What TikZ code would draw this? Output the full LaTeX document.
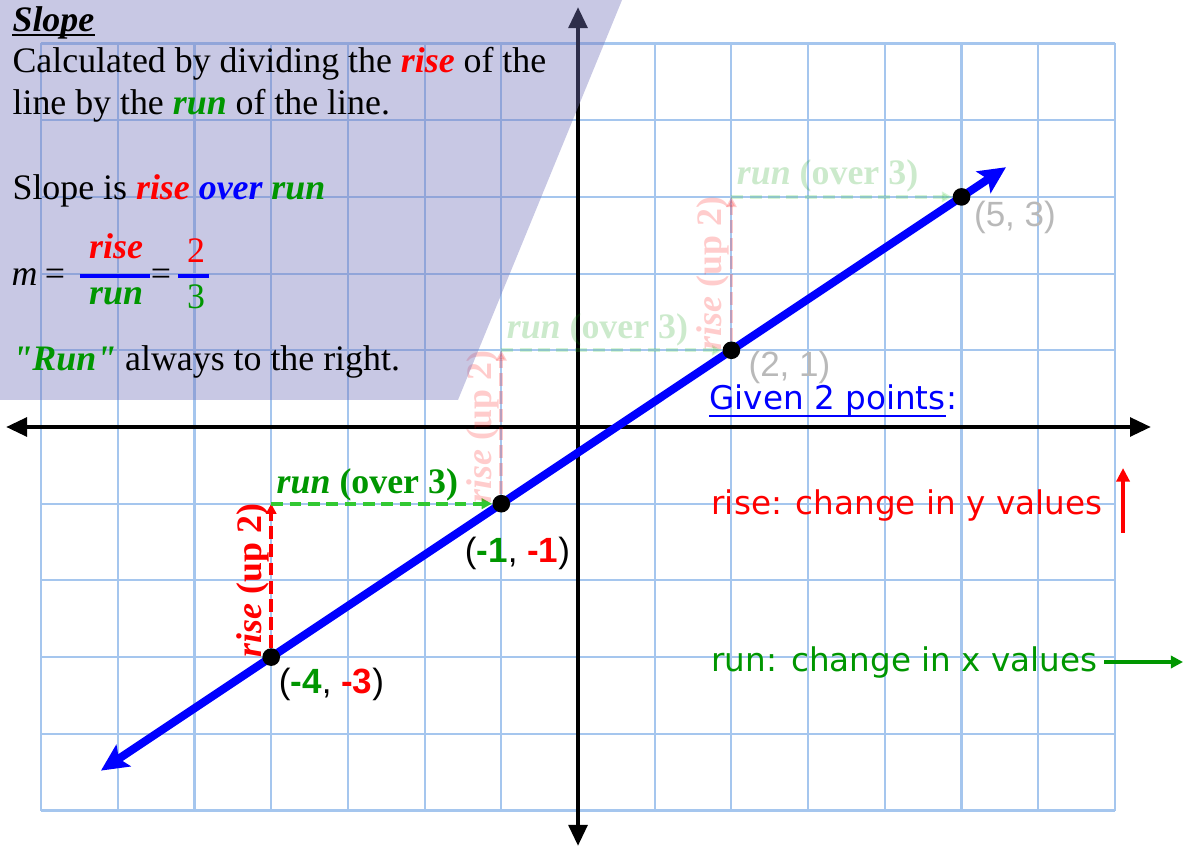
\documentclass[tikz,border=0pt]{standalone}
\usepackage{fontspec}
\setmainfont{Liberation Serif}
\newfontfamily\arialf{Liberation Sans}
\newfontfamily\comicf{DejaVu Sans}
\usetikzlibrary{arrows.meta}
\definecolor{myred}{RGB}{255,0,0}
\definecolor{mygreen}{RGB}{0,150,0}
\definecolor{dashgreen}{RGB}{50,200,50}
\definecolor{myblue}{RGB}{0,0,255}
\definecolor{gridblue}{RGB}{165,198,238}
\definecolor{lav}{RGB}{117,117,187}
\definecolor{lblgray}{RGB}{185,185,185}
\newcommand{\sq}{{\addfontfeatures{Ligatures=TeXOff}"}}
\begin{document}
\begin{tikzpicture}[
  x=1cm,y=1cm,
  font=\fontsize{13.3}{16}\selectfont,
  gridline/.style={draw=gridblue, line width=0.8pt},
  axisline/.style={line width=1.7pt, {Triangle[length=7.8pt,width=6.8pt]}-{Triangle[length=7.8pt,width=6.8pt]}},
  bline/.style={draw=myblue, line width=3pt, {Stealth[length=10pt,width=9.5pt,inset=2pt]}-{Stealth[length=10pt,width=9.5pt,inset=2pt]}},
  dot/.style={circle, fill=black, inner sep=0pt, minimum size=0.23cm},
  risearrow/.style={draw=myred, line width=1.35pt, dash pattern=on 4.8pt off 1.9pt, -{Triangle[length=3.8pt,width=3.8pt]}},
  runarrow/.style={draw=dashgreen, line width=1.35pt, dash pattern=on 4.4pt off 2.4pt, -{Triangle[length=3.8pt,width=3.8pt]}},
  faded/.style={opacity=0.2},
  riselbl/.style={text=myred, font=\fontsize{13.3}{16}\selectfont\bfseries, rotate=90, anchor=base, inner sep=0pt},
  runlbl/.style={text=mygreen, font=\fontsize{13.3}{16}\selectfont\bfseries, anchor=base west, inner sep=0pt},
  coordlbl/.style={font=\arialf\fontsize{13}{15}\selectfont, inner sep=0pt},
  txt/.style={anchor=base west, inner sep=0pt},
  ctxt/.style={anchor=base, inner sep=0pt},
  comic/.style={font=\comicf\fontsize{12.1}{14}\selectfont, anchor=base west, inner sep=0pt},
  fracbar/.style={draw=myblue, line width=1.3pt},
  uline/.style={line width=0.9pt}
]
\useasboundingbox (-7.536,-5.476) rectangle (8.005,5.567);

% grid
\draw[gridline] (-7,-5) grid (7,5);

% axes
\coordinate (xl) at (-7.458,0);
\coordinate (xr) at (7.471,0);
\coordinate (yt) at (0,5.476);
\coordinate (yb) at (0,-5.463);
\draw[axisline] (xl) -- (xr);
\draw[axisline] (yb) -- (yt);

% the line
\coordinate (ls) at (-6.22,-4.48);
\coordinate (le) at (5.58,3.387);
\draw[bline] (ls) -- (le);

% points
\node[dot] (p1) at (-4,-3) {};
\node[dot] (p2) at (-1,-1) {};
\node[dot] (p3) at (2,1) {};
\node[dot] (p4) at (5,3) {};
\coordinate (c1) at (-4,-1);
\coordinate (c2) at (-1,1);
\coordinate (c3) at (2,3);

% first step
\draw[risearrow] (p1) -- (c1);
\draw[runarrow] (c1) -- (p2);
\node[riselbl] (r1) at (-4.13,-2) {\itshape rise\upshape{} (up 2)};
\node[runlbl] (u1) at (-3.935,-0.87) {\itshape run\upshape{} (over 3)};

% faded steps
\begin{scope}[faded]
\draw[risearrow] (p2) -- (c2);
\draw[runarrow] (c2) -- (p3);
\node[riselbl] (r2) at (-1.13,0) {\itshape rise\upshape{} (up 2)};
\node[runlbl] (u2) at (-0.935,1.15) {\itshape run\upshape{} (over 3)};
\draw[risearrow] (p3) -- (c3);
\draw[runarrow] (c3) -- (p4);
\node[riselbl] (r3) at (1.87,2) {\itshape rise\upshape{} (up 2)};
\node[runlbl] (u3) at (2.065,3.16) {\itshape run\upshape{} (over 3)};
\end{scope}

% point labels
\node[coordlbl, text=lblgray] (l4) at (5.697,2.738) {(5, 3)};
\node[coordlbl, text=lblgray] (l3) at (2.757,0.782) {(2, 1)};
\node[coordlbl] (l2) at (-0.789,-1.643) {(\textcolor{mygreen}{\bfseries -1}, \textcolor{myred}{\bfseries -1})};
\node[coordlbl] (l1) at (-3.214,-3.351) {(\textcolor{mygreen}{\bfseries -4}, \textcolor{myred}{\bfseries -3})};

% right side
\node[comic, text=myblue] (given) at (1.708,0.222) {Given 2 points};
\node[comic, text=myblue] (colon) at (given.base east) {:};
\draw[uline, myblue] ([yshift=-2.2pt]given.base west) -- ([yshift=-2.2pt]given.base east);
\node[comic, text=myred] (risetxt) at (1.734,-1.147) {rise: change in y values};
\node[comic, text=mygreen] (runtxt) at (1.734,-3.194) {run: change in x values};
\coordinate (ra1) at (7.106,-1.382);
\coordinate (ra2) at (7.106,-0.535);
\draw[draw=myred, line width=1.5pt, -{Triangle[length=5pt,width=4.8pt]}] (ra1) -- (ra2);
\coordinate (ga1) at (6.858,-3.064);
\coordinate (ga2) at (7.888,-3.064);
\draw[draw=mygreen, line width=1.2pt, -{Triangle[length=4.5pt,width=4.5pt]}] (ga1) -- (ga2);

% lavender panel
\fill[lav, opacity=0.4] (-7.536,5.567) -- (0.574,5.567) -- (-1.565,0.352) -- (-7.536,0.352) -- cycle;

% panel text
\node[txt] (t0) at (-7.379,5.150) {\bfseries\itshape Slope};
\draw[uline] ([yshift=-1.2pt]t0.base west) -- ([yshift=-1.2pt]t0.base east);
\node[txt] (t1) at (-7.379,4.628) {Calculated by dividing the \textcolor{myred}{\bfseries\itshape rise} of the};
\node[txt] (t2) at (-7.379,4.068) {line by the \textcolor{mygreen}{\bfseries\itshape run} of the line.};
\node[txt] (t3) at (-7.379,2.960) {Slope is \textcolor{myred}{\bfseries\itshape rise} \textcolor{myblue}{\bfseries\itshape over} \textcolor{mygreen}{\bfseries\itshape run}};
\node[txt] (fm) at (-7.392,1.851) {\itshape m};
\node[ctxt] (fe1) at (-6.819,1.851) {=};
\coordinate (b1l) at (-6.493,1.969);
\coordinate (b1r) at (-5.580,1.969);
\draw[fracbar] (b1l) -- (b1r);
\node[ctxt, text=myred] (frise) at (-6.023,2.203) {\bfseries\itshape rise};
\node[ctxt, text=mygreen] (frun) at (-6.023,1.591) {\bfseries\itshape run};
\node[ctxt] (fe2) at (-5.437,1.851) {=};
\coordinate (b2l) at (-5.215,1.969);
\coordinate (b2r) at (-4.811,1.969);
\draw[fracbar] (b2l) -- (b2r);
\node[ctxt, text=myred] (f2) at (-4.980,2.151) {2};
\node[ctxt, text=mygreen] (f3) at (-4.980,1.551) {3};
\node[txt] (t5) at (-7.379,0.743) {\textcolor{mygreen}{\bfseries\itshape \sq Run\sq}\ always to the right.};
\end{tikzpicture}
\end{document}
